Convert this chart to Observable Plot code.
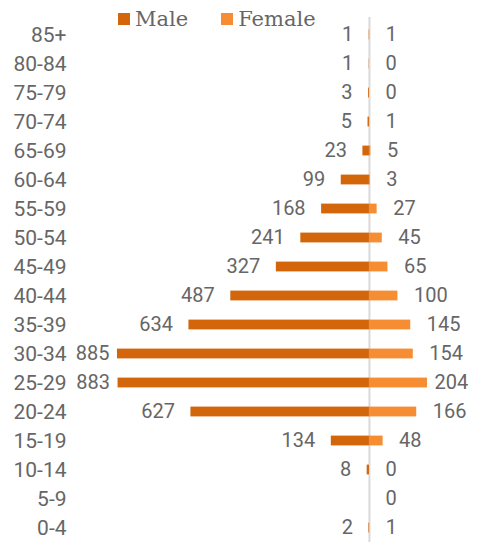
<!DOCTYPE html>
<html>
<head>
<meta charset="utf-8">
<script src="https://cdn.jsdelivr.net/npm/d3@7"></script>
<script src="https://cdn.jsdelivr.net/npm/@observablehq/plot@0.6"></script>
<style>
  html, body { margin: 0; padding: 0; background: #fff; }
  #wrap { position: relative; width: 478px; height: 542px; }
  #legend { position: absolute; top: 7px; left: 118px; display: flex; gap: 0; font-family: "DejaVu Serif", serif; font-size: 21px; color: #666; }
  .item { display: flex; align-items: center; margin-right: 33px; }
  .sw { width: 12px; height: 12px; margin-right: 5px; }
</style>
</head>
<body>
<div id="wrap"><div id="legend"></div></div>
<script>
const ages = ["85+","80-84","75-79","70-74","65-69","60-64","55-59","50-54","45-49","40-44","35-39","30-34","25-29","20-24","15-19","10-14","5-9","0-4"];
const male = [1,1,3,5,23,99,168,241,327,487,634,885,883,627,134,8,null,2];
const female = [1,0,0,1,5,3,27,45,65,100,145,154,204,166,48,0,0,1];
const seriesNames = ["Male", "Female"];
const colors = ["#D3650A", "#F68D33"];

const rows = ages.map((a, i) => ({age: a, male: male[i], female: female[i]}));
const maleRows = rows.filter(d => d.male != null);
const textColor = "#666666";
const labelFont = "Roboto, sans-serif";
const inset = 9.6;

const chart = Plot.plot({
  width: 478,
  height: 542,
  marginLeft: 70,
  marginRight: 0,
  marginTop: 17,
  marginBottom: 0,
  style: {fontFamily: labelFont, background: "transparent"},
  x: {domain: [-1050, 383], axis: null},
  y: {domain: ages, range: [17.3, 544.8], padding: 0, label: null},
  marks: [
    Plot.ruleX([0], {stroke: "#d9d9d9", strokeWidth: 2}),
    Plot.barX(maleRows, {x1: d => -d.male, x2: 0, y: "age", fill: colors[0], insetTop: inset, insetBottom: inset}),
    Plot.barX(rows.filter(d => d.female > 0), {x1: 0, x2: "female", y: "age", fill: colors[1], insetTop: inset, insetBottom: inset}),
    Plot.text(maleRows.filter(d => d.male < 800), {x: d => -d.male, y: "age", text: d => String(d.male), textAnchor: "end", dx: -16, fill: textColor, fontSize: 20}),
    Plot.text(maleRows.filter(d => d.male >= 800), {x: d => -d.male, y: "age", text: d => String(d.male), textAnchor: "end", dx: -8, fill: textColor, fontSize: 20}),
    Plot.text(rows.filter(d => d.female < 200), {x: "female", y: "age", text: d => String(d.female), textAnchor: "start", dx: 16, fill: textColor, fontSize: 20}),
    Plot.text(rows.filter(d => d.female >= 200), {x: "female", y: "age", text: d => String(d.female), textAnchor: "start", dx: 7, fill: textColor, fontSize: 20}),
    Plot.axisY({tickSize: 0, tickPadding: 4, fontSize: 21, color: textColor, label: null, fill: textColor})
  ]
});
document.getElementById("wrap").prepend(chart);

const legend = document.getElementById("legend");
seriesNames.forEach((name, i) => {
  const item = document.createElement("div");
  item.className = "item";
  const sw = document.createElement("div");
  sw.className = "sw";
  sw.style.background = colors[i];
  const t = document.createElement("span");
  t.textContent = name;
  item.append(sw, t);
  legend.append(item);
});
</script>
</body>
</html>
